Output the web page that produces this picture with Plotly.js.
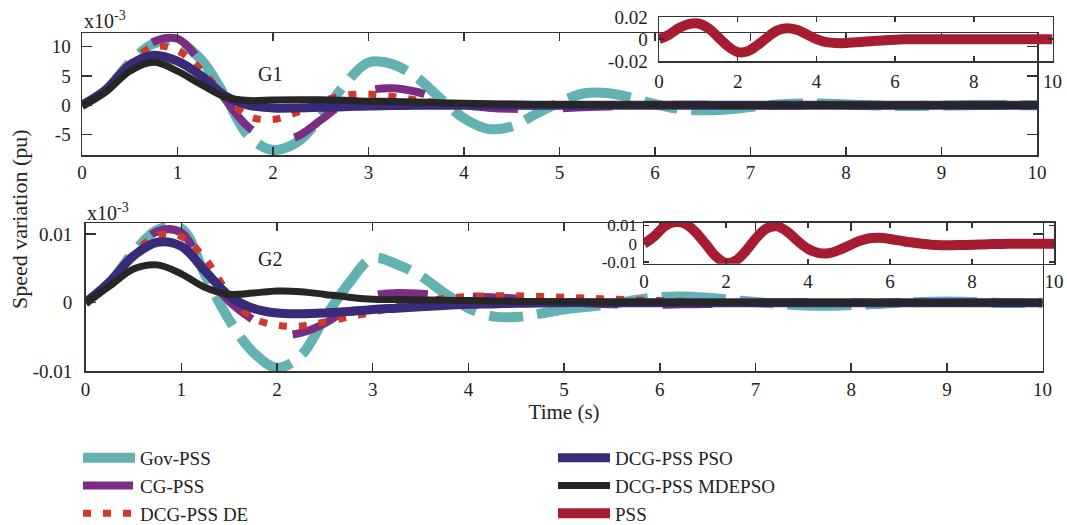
<!DOCTYPE html>
<html>
<head>
<meta charset="utf-8">
<script src="https://cdn.plot.ly/plotly-3.0.1.min.js"></script>
<style>html,body{margin:0;padding:0;background:#fff;}#chart{width:1067px;height:525px;}</style>
</head>
<body>
<div id="chart"></div>
<script>
// Time axis (s)
var time = [0,0.25,0.5,0.75,1,1.25,1.5,1.75,2,2.25,2.5,2.75,3,3.25,3.5,3.75,4,4.25,4.5,4.75,5,5.25,5.5,5.75,6,6.25,6.5,6.75,7,7.25,7.5,7.75,8,8.25,8.5,8.75,9,9.25,9.5,9.75,10];

// G1 speed variation (x10^-3 pu)
var govG1  = [0,2.6,7.2,10.5,10.8,7.7,1.5,-5.3,-7.6,-6.3,-2.0,3.5,7.3,7.0,4.8,1.2,-2.2,-4.0,-3.6,-1.5,0.5,2.0,2.1,1.3,0.2,-0.6,-0.85,-0.7,-0.3,0.1,0.3,0.3,0.15,0,-0.1,-0.1,-0.05,0.02,0.05,0.02,0];
var cgG1   = [0,2.6,7.2,10.8,11.3,7.2,1.0,-3.8,-5.9,-5.3,-2.5,0.5,2.5,2.9,2.3,1.0,0.0,-0.4,-0.6,-0.6,-0.5,-0.35,-0.2,-0.1,0,0.08,0.1,0.08,0.05,0,-0.03,-0.05,-0.03,0,0.02,0.02,0,0,0,0,0];
var deG1   = [0,2.6,7.0,10.0,9.3,6.0,1.5,-1.9,-2.4,-1.2,0.6,1.7,1.9,1.5,0.9,0.4,0.1,-0.1,-0.15,-0.1,0,0.05,0.05,0.03,0,0,0,0,0,0,0,0,0,0,0,0,0,0,0,0,0];
var psoG1  = [0,2.6,6.8,8.5,7.5,5.0,1.6,0,-0.45,-0.45,-0.35,-0.25,-0.1,-0.05,0,0,0,0,0,0,0,0,0,0,0,0,0,0,0,0,0,0,0,0,0,0,0,0,0,0,0];
var mdeG1  = [0,2.3,5.8,7.3,5.8,3.5,1.4,0.8,0.9,0.95,0.95,0.85,0.7,0.65,0.55,0.45,0.35,0.28,0.2,0.15,0.12,0.1,0.08,0.06,0.05,0.04,0.03,0.02,0.02,0.01,0.01,0,0,0,0,0,0,0,0,0,0];

// G2 speed variation (x10^-3 pu)
var govG2  = [0,2.9,7.3,10.6,10.8,4.0,-2.5,-7.2,-9.5,-7.7,-2.2,2.8,6.5,5.6,3.9,1.4,-0.8,-2.0,-2.1,-1.6,-1.0,-0.6,-0.2,0.4,0.8,0.9,0.7,0.4,0.1,-0.2,-0.4,-0.45,-0.35,-0.2,0,0.1,0.15,0.1,0,-0.05,0];
var cgG2   = [0,2.8,7.2,10.4,10.2,4.5,0.2,-2.5,-4.6,-4.4,-3.0,-0.8,1.0,1.4,1.3,1.0,0.9,0.8,0.6,0.35,0.1,-0.1,-0.25,-0.3,-0.3,-0.25,-0.2,-0.1,0,0.05,0.08,0.08,0.05,0,-0.03,-0.03,0,0,0,0,0];
var deG2   = [0,2.8,7.0,9.8,9.6,6.4,1.2,-2.2,-3.3,-3.4,-2.8,-2.1,-1.4,-0.6,0.1,0.6,0.9,1.0,1.0,0.9,0.8,0.65,0.5,0.4,0.3,0.2,0.1,0.05,0,0,0,0,0,0,0,0,0,0,0,0,0];
var psoG2  = [0,3.0,6.8,8.8,8.2,4.6,1.0,-0.8,-1.5,-1.6,-1.5,-1.3,-1.0,-0.8,-0.6,-0.4,-0.25,-0.18,-0.1,-0.05,0,0,0,0,0,0,0,0,0,0,0,0,0,0,0,0,0,0,0,0,0];
var mdeG2  = [0,2.4,4.9,5.5,4.2,2.2,1.2,1.4,1.7,1.6,1.2,0.8,0.5,0.45,0.4,0.35,0.3,0.25,0.2,0.15,0.1,0.08,0.06,0.05,0.04,0.03,0.02,0.01,0,0,0,0,0,0,0,0,0,0,0,0,0];

// PSS insets (pu)
var pssG1  = [0,0.004,0.010,0.0138,0.0143,0.010,0.002,-0.0065,-0.0118,-0.011,-0.0055,0.0015,0.0078,0.010,0.0085,0.0045,0.0,-0.0028,-0.0036,-0.0035,-0.0028,-0.0022,-0.0015,-0.001,-0.0005,-0.0002,0,0,0,0,0,0,0,0,0,0,0,0,0,0,0];
var pssG2  = [0,0.004,0.0095,0.0118,0.011,0.0065,0.0,-0.0068,-0.0105,-0.009,-0.0035,0.0035,0.0085,0.0095,0.0065,0.0015,-0.0028,-0.005,-0.0052,-0.0035,-0.001,0.0015,0.003,0.0033,0.0026,0.0017,0.0008,0.0001,-0.0005,-0.0008,-0.0008,-0.0007,-0.0006,-0.0004,-0.0002,-0.0001,0,0,0,0,0];

// Tick labels
var mainXTicks = [0,1,2,3,4,5,6,7,8,9,10];
var insetXTicks = [0,2,4,6,8,10];
var g1YTicks = [-5,0,5,10];
var g1YText = ['-5','0','5','10'];
var g2YTicks = [-10,0,10];
var g2YText = ['-0.01','0','0.01'];
var in1YTicks = [-0.02,0,0.02];
var in1YText = ['-0.02','0','0.02'];
var in2YTicks = [-0.01,0,0.01];
var in2YText = ['-0.01','0','0.01'];

var names = ['Gov-PSS','CG-PSS','DCG-PSS DE','DCG-PSS PSO','DCG-PSS MDEPSO','PSS'];
var colors = ['#63b1b1','#7b2d82','#d0392a','#3a2a7a','#262626','#a61c30'];
var widths = [10,8,7,9,7,10];
var dashes = ['64px,14px,34px,14px','50px,45px','8px,12px','solid','solid','solid'];

var W = 1067, H = 525;
function px(x){return x/W;}
function py(y){return 1-y/H;}

var g1 = [govG1,cgG1,deG1,psoG1,mdeG1];
var g2 = [govG2,cgG2,deG2,psoG2,mdeG2];
var traces = [];
for (var i=0;i<5;i++){
  traces.push({x:time,y:g1[i],type:'scatter',mode:'lines',name:names[i],xaxis:'x',yaxis:'y',
    line:{color:colors[i],width:widths[i],dash:dashes[i],shape:'spline',smoothing:1},
    legend: i<3?'legend':'legend2', showlegend:true});
}
for (var i=0;i<5;i++){
  traces.push({x:time,y:g2[i],type:'scatter',mode:'lines',name:names[i],xaxis:'x2',yaxis:'y2',
    line:{color:colors[i],width:widths[i],dash:dashes[i],shape:'spline',smoothing:1},
    legend: i<3?'legend':'legend2', showlegend:false});
}
traces.push({x:time,y:pssG1,type:'scatter',mode:'lines',name:names[5],xaxis:'x3',yaxis:'y3',
  line:{color:colors[5],width:widths[5],shape:'spline',smoothing:1},legend:'legend2',showlegend:true});
traces.push({x:time,y:pssG2,type:'scatter',mode:'lines',name:names[5],xaxis:'x4',yaxis:'y4',
  line:{color:colors[5],width:widths[5],shape:'spline',smoothing:1},legend:'legend2',showlegend:false});

var FONT = '"Liberation Serif", serif';
var tickFont = {family:FONT,size:19,color:'#222'};
var legFont = {family:FONT,size:19,color:'#222'};
function ax(extra){
  var a = {showline:true,linecolor:'#333',linewidth:1.5,mirror:'ticks',ticks:'inside',ticklen:8,tickwidth:1.5,tickcolor:'#333',
    showgrid:false,zeroline:false,tickfont:tickFont,tickmode:'array',fixedrange:true,automargin:false};
  for (var k in extra) a[k]=extra[k];
  return a;
}

var layout = {
  width:W,height:H,
  margin:{l:0,r:0,t:0,b:0,autoexpand:false},
  paper_bgcolor:'#fff',plot_bgcolor:'rgba(0,0,0,0)',
  font:{family:FONT,color:'#222'},
  xaxis: ax({domain:[px(82),px(1037)],range:[0,10],anchor:'y',tickvals:mainXTicks,ticktext:mainXTicks.map(String),ticklabelstandoff:0}),
  yaxis: ax({domain:[py(155),py(33.3)],range:[-8.45,12.24],anchor:'x',tickvals:g1YTicks,ticktext:g1YText,ticklen:10,ticklabelstandoff:6}),
  xaxis2: ax({domain:[px(85.6),px(1042.6)],range:[0,10],anchor:'y2',tickvals:mainXTicks,ticktext:mainXTicks.map(String),ticklabelstandoff:0,
    title:{text:'Time (s)',font:{family:FONT,size:21,color:'#222'},standoff:2}}),
  yaxis2: ax({domain:[py(371.3),py(223)],range:[-10,11.6],anchor:'x2',tickvals:g2YTicks,ticktext:g2YText,ticklen:10,ticklabelstandoff:8}),
  xaxis3: ax({domain:[px(659),px(1052.5)],range:[0,10],anchor:'y3',tickvals:insetXTicks,ticktext:insetXTicks.map(String),ticklen:5,ticklabelstandoff:2}),
  yaxis3: ax({domain:[py(61.3),py(17)],range:[-0.0202,0.0202],anchor:'x3',tickvals:in1YTicks,ticktext:in1YText,ticklen:5,ticklabelstandoff:6}),
  xaxis4: ax({domain:[px(644),px(1054)],range:[0,10],anchor:'y4',tickvals:insetXTicks,ticktext:insetXTicks.map(String),ticklen:5,ticklabelstandoff:0}),
  yaxis4: ax({domain:[py(263.7),py(222.5)],range:[-0.0109,0.0116],anchor:'x4',tickvals:in2YTicks,ticktext:in2YText,ticklen:5,ticklabelstandoff:2,
    tickfont:{family:FONT,size:17,color:'#222'}}),
  legend:{x:px(78),y:py(439),xanchor:'left',yanchor:'top',orientation:'v',itemwidth:52,
    font:legFont,bgcolor:'rgba(0,0,0,0)',borderwidth:0,traceorder:'normal'},
  legend2:{x:px(553),y:py(439),xanchor:'left',yanchor:'top',orientation:'v',itemwidth:52,
    font:legFont,bgcolor:'rgba(0,0,0,0)',borderwidth:0,traceorder:'normal'},
  annotations:[
    {xref:'paper',yref:'paper',x:px(82),y:py(20),xanchor:'left',yanchor:'middle',showarrow:false,
      text:'x10<sup>-3</sup>',font:{family:FONT,size:20,color:'#222'}},
    {xref:'paper',yref:'paper',x:px(85),y:py(212),xanchor:'left',yanchor:'middle',showarrow:false,
      text:'x10<sup>-3</sup>',font:{family:FONT,size:20,color:'#222'}},
    {xref:'paper',yref:'paper',x:px(269.5),y:py(74),xanchor:'center',yanchor:'middle',showarrow:false,
      text:'G1',font:{family:FONT,size:20,color:'#222'}},
    {xref:'paper',yref:'paper',x:px(269.5),y:py(259.5),xanchor:'center',yanchor:'middle',showarrow:false,
      text:'G2',font:{family:FONT,size:20,color:'#222'}},
    {xref:'paper',yref:'paper',x:px(19),y:py(219),xanchor:'center',yanchor:'middle',showarrow:false,textangle:-90,
      text:'Speed variation (pu)',font:{family:FONT,size:22,color:'#222'}}
  ]
};

Plotly.newPlot('chart',traces,layout,{displayModeBar:false,staticPlot:true});
</script>
</body>
</html>
